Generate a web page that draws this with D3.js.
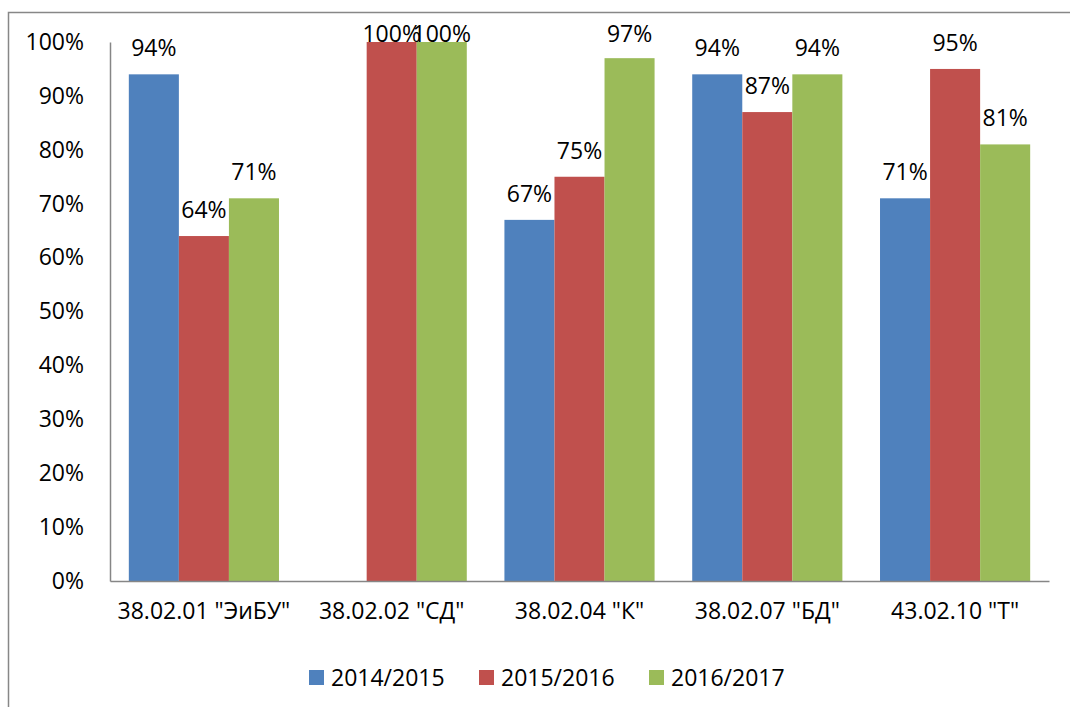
<!DOCTYPE html>
<html><head><meta charset="utf-8">
<script src="https://cdn.jsdelivr.net/npm/d3@7"></script>
<style>body{margin:0;background:#fff;} text{font-family:"Open Sans",sans-serif;fill:#000;}</style>
</head><body>
<svg id="c" width="1070" height="707"></svg>
<script>
const categories = ['38.02.01 "ЭиБУ"', '38.02.02 "СД"', '38.02.04 "К"', '38.02.07 "БД"', '43.02.10 "Т"'];
const seriesNames = ["2014/2015", "2015/2016", "2016/2017"];
const s2014 = [0.94, null, 0.67, 0.94, 0.71];
const s2015 = [0.64, 1.00, 0.75, 0.87, 0.95];
const s2016 = [0.71, 1.00, 0.97, 0.94, 0.81];
const yTicks = [0,0.1,0.2,0.3,0.4,0.5,0.6,0.7,0.8,0.9,1.0];
const colors = ["#4F81BD", "#C0504D", "#9BBB59"];
const series = [s2014, s2015, s2016];

(function(){
const svg = d3.select("#c");
const pL = 110, pR = 1049, pT = 42, pB = 581;
const fs = 23;

// outer frame
svg.append("rect").attr("x", 8.5).attr("y", 12.5).attr("width", 1080).attr("height", 720)
  .attr("fill", "none").attr("stroke", "#878787").attr("stroke-width", 1.5);

const x0 = d3.scaleBand().domain(categories).range([pL, pR]).paddingInner(0).paddingOuter(0);
const x1 = d3.scaleBand().domain(seriesNames).range([0, x0.bandwidth()]).paddingInner(0).paddingOuter(0.376);
const y = d3.scaleLinear().domain([0, 1]).range([pB, pT]);

// y axis
const yAxis = d3.axisLeft(y).tickValues(yTicks).tickFormat(d3.format(".0%")).tickSize(0).tickPadding(26);
const gy = svg.append("g").attr("transform", `translate(${pL},0)`).call(yAxis);
gy.select(".domain").attr("stroke", "#868686").attr("stroke-width", 1.5);
gy.selectAll("text").style("font-size", fs + "px").style("font-family", '"Open Sans",sans-serif').attr("fill", "#000");

// bars
const rows = [];
series.forEach((s, si) => s.forEach((v, ci) => { if (v !== null) rows.push({si, ci, v}); }));
svg.append("g").selectAll("rect").data(rows).join("rect")
  .attr("x", d => x0(categories[d.ci]) + x1(seriesNames[d.si]))
  .attr("y", d => y(d.v))
  .attr("width", x1.bandwidth())
  .attr("height", d => y(0) - y(d.v))
  .attr("fill", d => colors[d.si]);

// x axis
const xAxis = d3.axisBottom(x0).tickSize(0).tickPadding(22);
const gx = svg.append("g").attr("transform", `translate(0,${pB})`).call(xAxis);
gx.select(".domain").attr("stroke", "#868686").attr("stroke-width", 1.5);
gx.selectAll("text").style("font-size", fs + "px").style("font-family", '"Open Sans",sans-serif').attr("fill", "#000");

// labels
svg.append("g").selectAll("text").data(rows).join("text")
  .attr("x", d => x0(categories[d.ci]) + x1(seriesNames[d.si]) + x1.bandwidth() / 2)
  .attr("y", d => Math.max(y(d.v) - 18, pT))
  .attr("text-anchor", "middle")
  .style("font-size", fs + "px")
  .text(d => d3.format(".0%")(d.v));

// legend
const legX = [309, 479, 649];
const lg = svg.append("g").selectAll("g").data(seriesNames).join("g")
  .attr("transform", (d, i) => `translate(${legX[i]},670)`);
lg.append("rect").attr("width", 15).attr("height", 15).attr("fill", (d, i) => colors[i]);
lg.append("text").attr("x", 22).attr("y", 7.5).attr("dy", "0.35em").style("font-size", fs + "px").text(d => d);
})();
</script>
</body></html>
